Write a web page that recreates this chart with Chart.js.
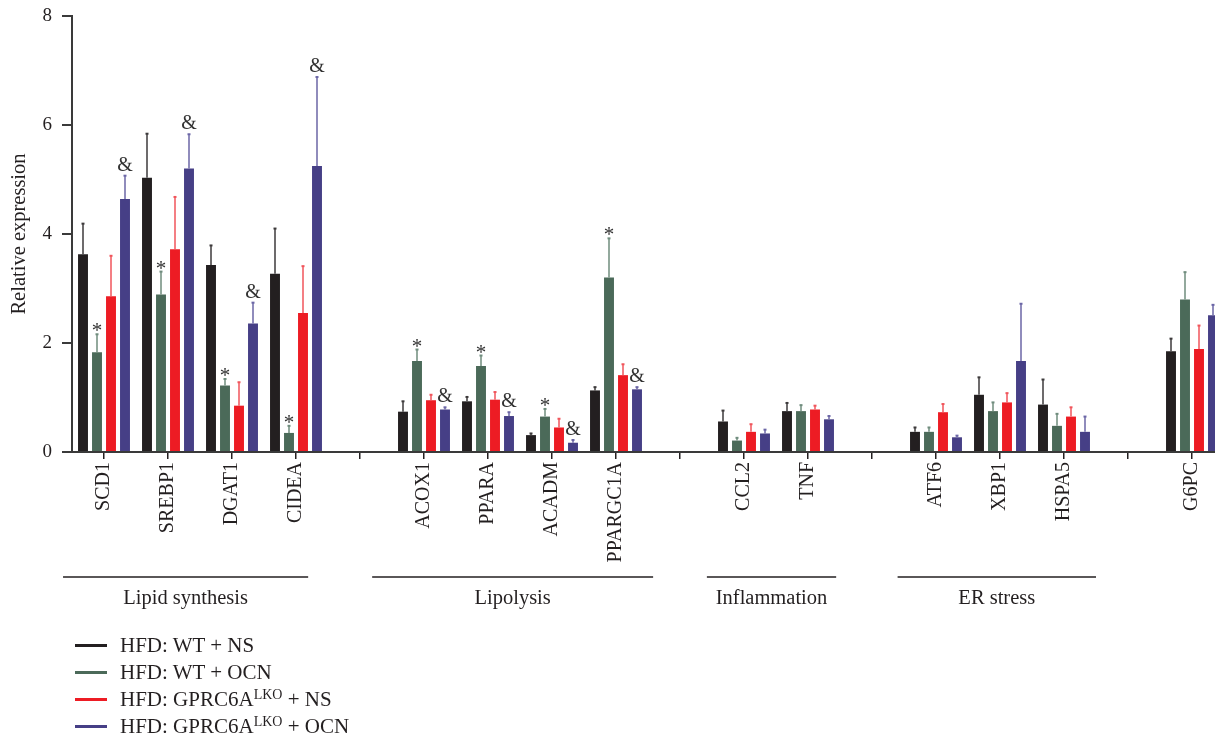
<!DOCTYPE html>
<html>
<head>
<meta charset="utf-8">
<script src="https://cdn.jsdelivr.net/npm/chart.js@4.4.1/dist/chart.umd.min.js"></script>
<style>
  html, body { margin: 0; padding: 0; background: #fff; overflow: hidden; }
  #wrap { position: relative; width: 1240px; height: 739px; }
  #legend { position: absolute; left: 75px; top: 632px; font-family: "Liberation Serif", serif; font-size: 21px; color: #231f20; }
  #legend .row { display: flex; align-items: center; height: 27px; white-space: nowrap; }
  #legend .swatch { width: 32px; height: 3px; margin-right: 13px; }
  #legend sup { font-size: 14px; vertical-align: 7px; line-height: 0; }
</style>
</head>
<body>
<div id="wrap">
  <canvas id="chart" width="1240" height="739"></canvas>
  <div id="legend"></div>
</div>
<script>
// genes on the x axis ('' = gap between groups)
const genes = ['SCD1', 'SREBP1', 'DGAT1', 'CIDEA', '', 'ACOX1', 'PPARA', 'ACADM', 'PPARGC1A', '',
               'CCL2', 'TNF', '', 'ATF6', 'XBP1', 'HSPA5', '', 'G6PC'];

// mean relative expression per group
const wtNs   = [3.63, 5.03, 3.43, 3.27, null, 0.74, 0.93, 0.31, 1.13, null, 0.56, 0.75, null, 0.37, 1.05, 0.87, null, 1.85];
const wtOcn  = [1.83, 2.89, 1.22, 0.35, null, 1.67, 1.58, 0.65, 3.20, null, 0.21, 0.75, null, 0.37, 0.75, 0.48, null, 2.80];
const koNs   = [2.86, 3.72, 0.85, 2.55, null, 0.95, 0.96, 0.45, 1.41, null, 0.37, 0.78, null, 0.73, 0.91, 0.65, null, 1.89];
const koOcn  = [4.64, 5.20, 2.36, 5.25, null, 0.78, 0.66, 0.17, 1.15, null, 0.34, 0.60, null, 0.27, 1.67, 0.37, null, 2.51];

// error (upper whisker length)
const wtNsErr  = [0.56, 0.81, 0.36, 0.83, null, 0.19, 0.08, 0.03, 0.06, null, 0.20, 0.15, null, 0.08, 0.32, 0.46, null, 0.23];
const wtOcnErr = [0.33, 0.42, 0.12, 0.13, null, 0.21, 0.19, 0.14, 0.72, null, 0.05, 0.11, null, 0.08, 0.16, 0.22, null, 0.50];
const koNsErr  = [0.74, 0.96, 0.43, 0.86, null, 0.10, 0.14, 0.16, 0.20, null, 0.14, 0.07, null, 0.15, 0.17, 0.17, null, 0.43];
const koOcnErr = [0.43, 0.63, 0.38, 1.63, null, 0.04, 0.07, 0.05, 0.04, null, 0.07, 0.06, null, 0.03, 1.05, 0.28, null, 0.19];

const seriesNames = ['HFD: WT + NS', 'HFD: WT + OCN', 'HFD: GPRC6A<sup>LKO</sup> + NS', 'HFD: GPRC6A<sup>LKO</sup> + OCN'];

// significance marks: * on WT + OCN, & on GPRC6A-LKO + OCN
const starGenes = ['SCD1', 'SREBP1', 'DGAT1', 'CIDEA', 'ACOX1', 'PPARA', 'ACADM', 'PPARGC1A'];
const ampGenes  = ['SCD1', 'SREBP1', 'DGAT1', 'CIDEA', 'ACOX1', 'PPARA', 'ACADM', 'PPARGC1A'];

// pathway groups under the axis
const groupNames = ['Lipid synthesis', 'Lipolysis', 'Inflammation', 'ER stress'];
const groupFirst = ['SCD1', 'ACOX1', 'CCL2', 'ATF6'];
const groupLast  = ['CIDEA', 'PPARGC1A', 'TNF', 'HSPA5'];

const yTicks = [0, 2, 4, 6, 8];

// styling
const FONT = '"Liberation Serif", serif';
const INK = '#231f20';
const barColors = ['#231f20', '#4b6a59', '#ed1c24', '#463f86'];
const errColors = ['#3d3a3b', '#6f8c7d', '#f0555b', '#6b66a6'];
const groupPad = [[0.64, 0.19], [0.81, 0.58], [0.58, 0.44], [0.6, 0.5]]; // in category widths

const errors = [wtNsErr, wtOcnErr, koNsErr, koOcnErr];

const errorBars = {
  id: 'errorBars',
  afterDatasetsDraw(chart) {
    const ctx = chart.ctx;
    const y = chart.scales.y;
    ctx.save();
    chart.data.datasets.forEach((ds, i) => {
      const meta = chart.getDatasetMeta(i);
      meta.data.forEach((bar, j) => {
        const v = ds.data[j];
        if (v == null) return;
        const top = y.getPixelForValue(v + errors[i][j]);
        ctx.strokeStyle = errColors[i];
        ctx.lineWidth = 1.5;
        ctx.beginPath();
        ctx.moveTo(bar.x, bar.y);
        ctx.lineTo(bar.x, top);
        ctx.stroke();
        ctx.lineWidth = 2;
        ctx.beginPath();
        ctx.moveTo(bar.x - 1.5, top);
        ctx.lineTo(bar.x + 1.5, top);
        ctx.stroke();
      });
    });

    // significance symbols
    ctx.fillStyle = '#333';
    ctx.textAlign = 'center';
    ctx.textBaseline = 'alphabetic';
    ctx.font = '21px ' + FONT;
    starGenes.forEach(g => {
      const j = genes.indexOf(g);
      const bar = chart.getDatasetMeta(1).data[j];
      const top = y.getPixelForValue(wtOcn[j] + wtOcnErr[j]);
      ctx.fillText('*', bar.x, top + 3);
    });
    ctx.font = '20px ' + FONT;
    ampGenes.forEach(g => {
      const j = genes.indexOf(g);
      const bar = chart.getDatasetMeta(3).data[j];
      const top = y.getPixelForValue(koOcn[j] + koOcnErr[j]);
      ctx.fillText('&', bar.x, top - 5);
    });
    ctx.restore();
  }
};

const groupLabels = {
  id: 'groupLabels',
  afterDraw(chart) {
    const ctx = chart.ctx;
    const x = chart.scales.x;
    const w = x.getPixelForValue(1) - x.getPixelForValue(0);
    ctx.save();
    ctx.strokeStyle = INK;
    ctx.fillStyle = INK;
    ctx.lineWidth = 1.3;
    ctx.font = '20.5px ' + FONT;
    ctx.textAlign = 'center';
    ctx.textBaseline = 'alphabetic';
    groupNames.forEach((name, k) => {
      const x0 = x.getPixelForValue(genes.indexOf(groupFirst[k])) - groupPad[k][0] * w;
      const x1 = x.getPixelForValue(genes.indexOf(groupLast[k])) + groupPad[k][1] * w;
      ctx.beginPath();
      ctx.moveTo(x0, 577);
      ctx.lineTo(x1, 577);
      ctx.stroke();
      ctx.fillText(name, (x0 + x1) / 2, 604);
    });
    ctx.restore();
  }
};

const series = [wtNs, wtOcn, koNs, koOcn];

new Chart(document.getElementById('chart'), {
  type: 'bar',
  data: {
    labels: genes,
    datasets: series.map((d, i) => ({
      label: seriesNames[i],
      data: d,
      backgroundColor: barColors[i],
      borderWidth: 0,
      categoryPercentage: 0.875,
      barPercentage: 0.71
    }))
  },
  options: {
    responsive: false,
    animation: false,
    layout: { padding: { top: 16, right: 16, bottom: 0, left: 0 } },
    plugins: { legend: { display: false }, tooltip: { enabled: false } },
    scales: {
      x: {
        afterFit(scale) { scale.height = 287; scale.paddingTop = 0; scale.paddingBottom = 0; },
        grid: { offset: false, drawOnChartArea: false, tickLength: 7, color: INK, lineWidth: 1.5 },
        border: { display: true, color: '#3a3a3a', width: 2 },
        ticks: {
          autoSkip: false, maxRotation: 90, minRotation: 90, padding: 3,
          color: INK, font: { family: FONT, size: 20 }
        }
      },
      y: {
        min: 0, max: 8,
        afterFit(scale) { scale.width = 72; scale.paddingTop = 0; scale.paddingBottom = 0; },
        afterBuildTicks(scale) { scale.ticks = yTicks.map(v => ({ value: v })); },
        grid: { drawOnChartArea: false, tickLength: 10, color: '#3a3a3a', lineWidth: 2 },
        border: { display: true, color: '#3a3a3a', width: 2 },
        ticks: { padding: 10, color: INK, font: { family: FONT, size: 19 } },
        title: {
          display: true, text: 'Relative expression', color: INK,
          font: { family: FONT, size: 20.5 }, padding: { top: 7, bottom: 0 }
        }
      }
    }
  },
  plugins: [errorBars, groupLabels]
});

// legend with superscripts
const legend = document.getElementById('legend');
seriesNames.forEach((name, i) => {
  const row = document.createElement('div');
  row.className = 'row';
  row.innerHTML = '<span class="swatch" style="background:' + barColors[i] + '"></span><span>' + name + '</span>';
  legend.appendChild(row);
});
</script>
</body>
</html>
